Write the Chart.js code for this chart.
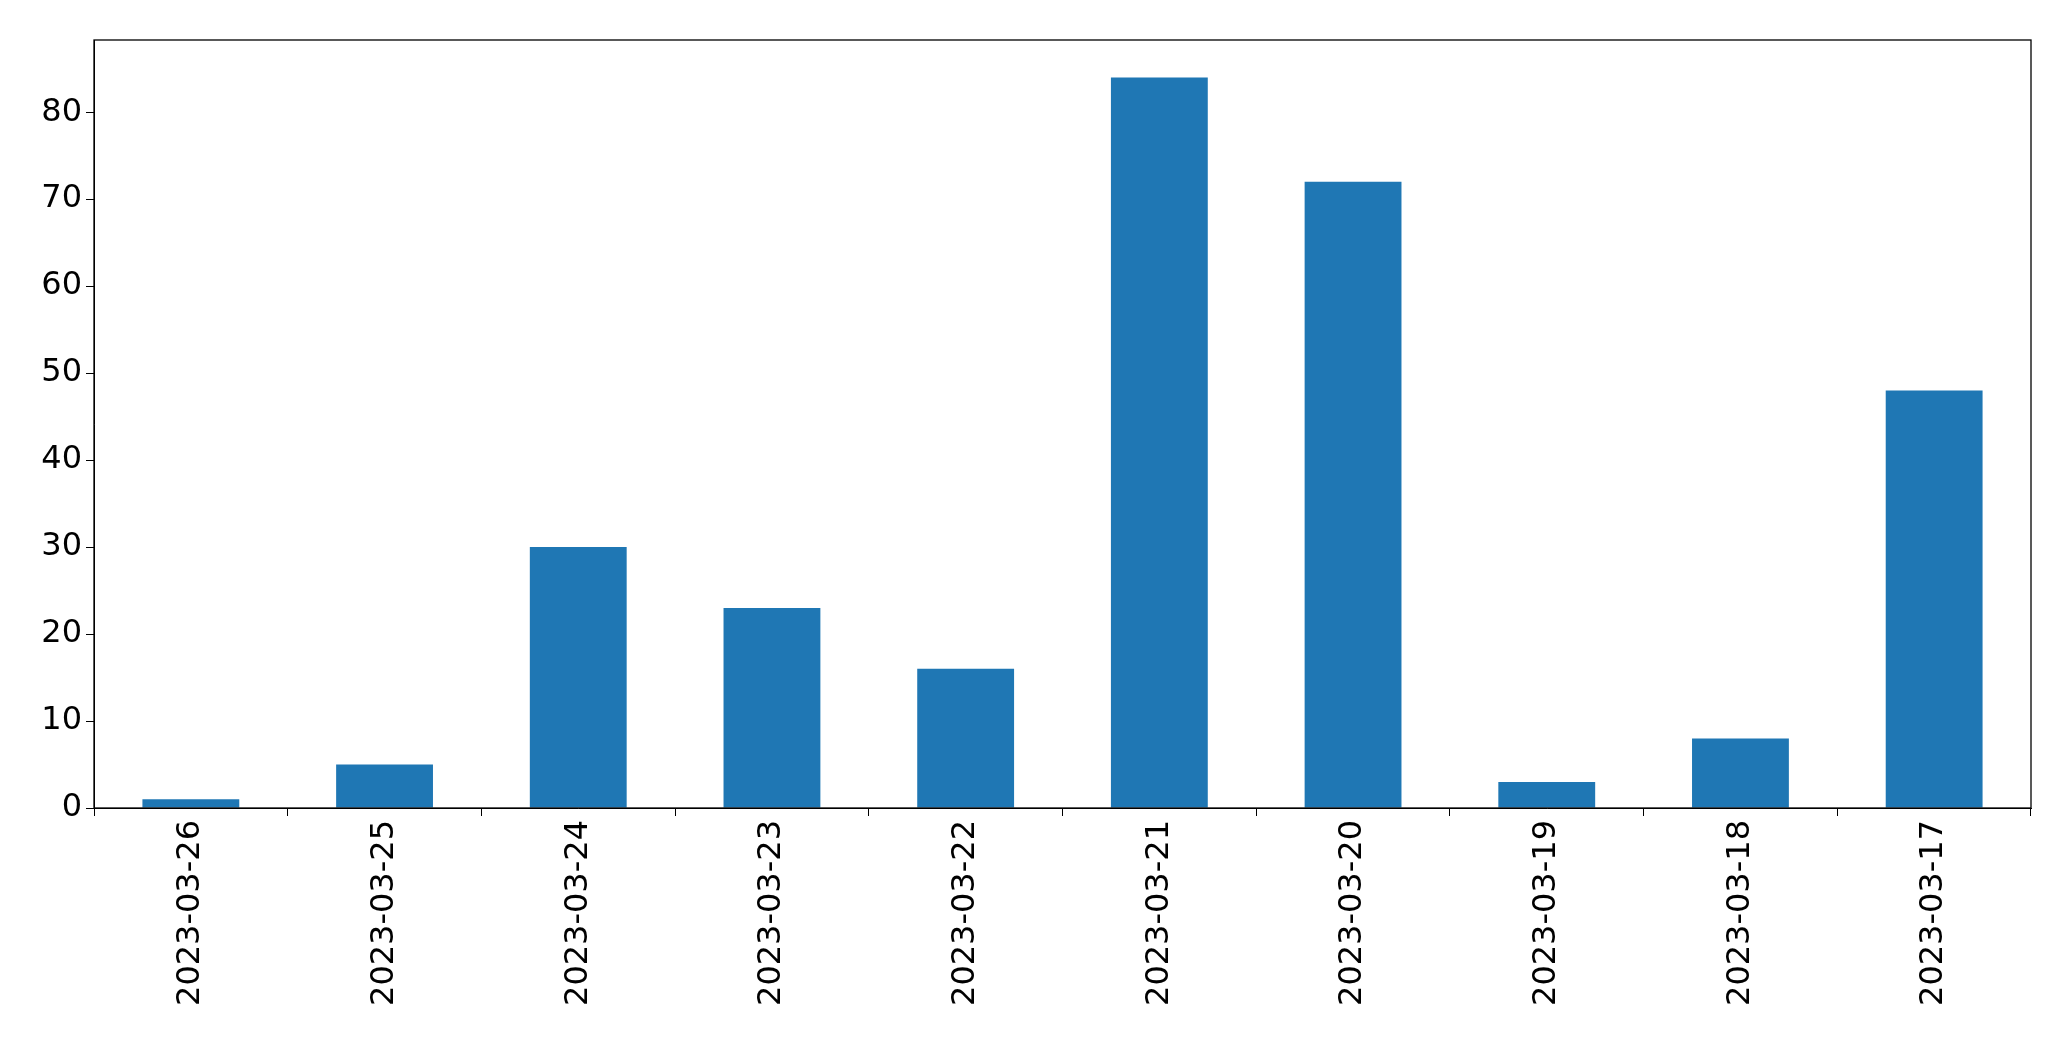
<!DOCTYPE html>
<html><head><meta charset="utf-8">
<script src="https://cdn.jsdelivr.net/npm/chart.js@4"></script>
<style>html,body{margin:0;padding:0;background:#fff}#w{width:2071px;height:1061px}</style>
</head><body><div id="w"><canvas id="c"></canvas></div>
<script>
const categories = ["2023-03-26","2023-03-25","2023-03-24","2023-03-23","2023-03-22","2023-03-21","2023-03-20","2023-03-19","2023-03-18","2023-03-17"];
const values = [1,5,30,23,16,84,72,3,8,48];
const yTicks = [0,10,20,30,40,50,60,70,80];
const frame = {id:'frame',afterDraw(ch){const a=ch.chartArea,c=ch.ctx;c.save();c.strokeStyle='#000';c.lineWidth=1.3;c.strokeRect(a.left,a.top,a.right-a.left,a.bottom-a.top);c.restore();}};
Chart.defaults.font.family="'DejaVu Sans'";
new Chart(document.getElementById('c'),{type:'bar',
data:{labels:categories,datasets:[{data:values,backgroundColor:'#1f77b4',categoryPercentage:1,barPercentage:0.5}]},
options:{responsive:true,maintainAspectRatio:false,animation:false,
layout:{padding:{top:40,right:40,left:0,bottom:0}},
plugins:{legend:{display:false},tooltip:{enabled:false}},
scales:{
x:{offset:true,grid:{display:true,drawOnChartArea:false,drawTicks:true,tickLength:8,color:'#000'},border:{color:'#000'},
ticks:{color:'#000',font:{size:32},maxRotation:90,minRotation:90,padding:4},afterFit(s){s.height=253;}},
y:{min:0,max:88.3,afterBuildTicks(s){s.ticks=yTicks.map(v=>({value:v}));},grid:{display:true,drawOnChartArea:false,drawTicks:true,tickLength:8,color:'#000'},border:{color:'#000'},
ticks:{color:'#000',font:{size:32},padding:4},afterFit(s){s.width=94;}}
}},plugins:[frame]});
</script></body></html>
